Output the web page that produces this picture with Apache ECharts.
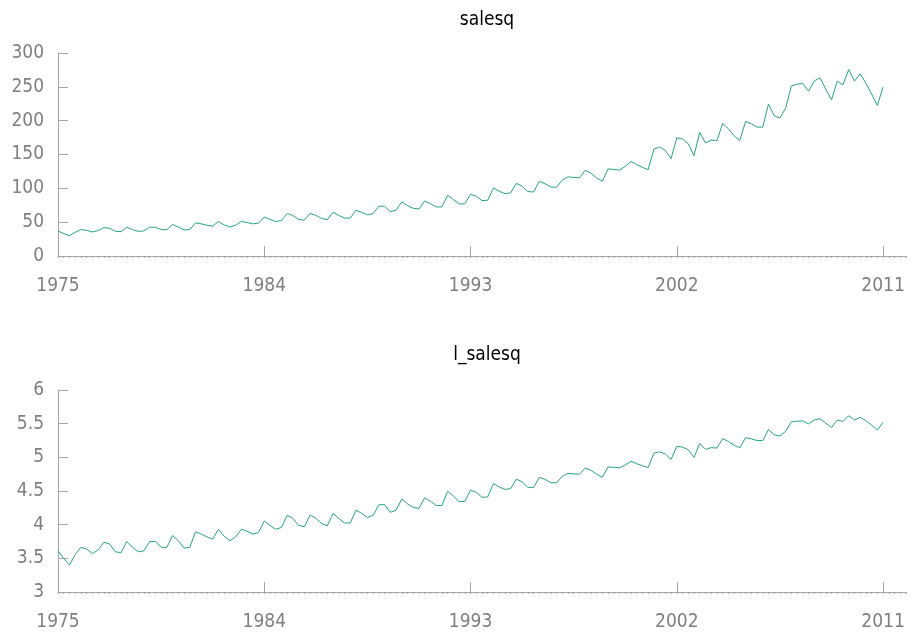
<!DOCTYPE html>
<html>
<head>
<meta charset="utf-8">
<script src="https://cdn.jsdelivr.net/npm/echarts@6/dist/echarts.min.js"></script>
<style>
  html, body { margin: 0; padding: 0; background: #fff; }
  #chart { width: 914px; height: 633px; }
</style>
</head>
<body>
<div id="chart"></div>
<script>
// Quarterly sales, 1975Q1 .. 2011Q1
const startYear = 1975;
const salesq = [
  37, 33, 30, 35,
  39, 38, 35.5, 37.5,
  42, 41, 36.5, 36,
  42.5, 39, 36.5, 37,
  42.5, 42.5, 39, 39,
  46.5, 43, 38.5, 39,
  49, 47.5, 45.5, 44,
  51, 46, 43, 45.5,
  51, 49.5, 47.5, 48.5,
  57.7, 54, 51, 52.4,
  62.7, 60, 54, 53,
  63, 60, 55.6, 53.6,
  64.6, 60, 56, 56,
  67.6, 64.6, 60.7, 62.7,
  73.5, 73.5, 65.6, 67.6,
  79.9, 74.4, 70.5, 69.5,
  81.4, 77.4, 72.5, 72.5,
  89.7, 83.5, 77, 77,
  91.2, 88.3, 81.9, 82.4,
  100.6, 95.6, 92.2, 93.2,
  107.4, 103, 95.2, 94.6,
  110.4, 107, 102, 101.6,
  112, 117, 116, 115.5,
  126.5, 122.5, 115.5, 110.4,
  128.6, 128, 127, 132.4,
  139.8, 135, 131, 127.6,
  158, 161, 156, 143.8,
  174.8, 172.8, 166, 148.2,
  182.6, 167, 171.4, 170.4,
  195.9, 188, 177.7, 170.8,
  198.8, 195.4, 190.5, 190.5,
  224.5, 207.2, 203.8, 218.6,
  251.5, 254, 254.9, 243.6,
  258.8, 263.3, 246.6, 230.8,
  258.4, 253, 275.5, 258.4,
  269.2, 255.5, 239.3, 222.5,
  249.6
];
// Natural log of sales
const l_salesq = [
  3.611, 3.497, 3.401, 3.555,
  3.664, 3.638, 3.570, 3.624,
  3.738, 3.714, 3.597, 3.584,
  3.750, 3.664, 3.597, 3.611,
  3.750, 3.750, 3.664, 3.664,
  3.839, 3.761, 3.651, 3.664,
  3.892, 3.861, 3.818, 3.784,
  3.932, 3.829, 3.761, 3.818,
  3.932, 3.902, 3.861, 3.882,
  4.055, 3.989, 3.932, 3.959,
  4.138, 4.094, 3.989, 3.970,
  4.143, 4.094, 4.018, 3.982,
  4.168, 4.094, 4.025, 4.025,
  4.214, 4.168, 4.106, 4.138,
  4.297, 4.297, 4.184, 4.214,
  4.381, 4.309, 4.256, 4.241,
  4.399, 4.349, 4.284, 4.284,
  4.496, 4.425, 4.344, 4.344,
  4.513, 4.481, 4.406, 4.412,
  4.611, 4.560, 4.524, 4.535,
  4.677, 4.635, 4.556, 4.550,
  4.704, 4.673, 4.625, 4.621,
  4.718, 4.762, 4.754, 4.749,
  4.840, 4.808, 4.749, 4.704,
  4.857, 4.852, 4.844, 4.886,
  4.940, 4.905, 4.875, 4.849,
  5.063, 5.081, 5.050, 4.968,
  5.164, 5.152, 5.112, 4.999,
  5.207, 5.118, 5.144, 5.138,
  5.278, 5.236, 5.180, 5.141,
  5.292, 5.275, 5.250, 5.250,
  5.414, 5.334, 5.317, 5.387,
  5.528, 5.537, 5.541, 5.496,
  5.556, 5.573, 5.508, 5.442,
  5.554, 5.533, 5.618, 5.554,
  5.595, 5.543, 5.478, 5.405,
  5.520
];
const yearTicks = [1975, 1984, 1993, 2002, 2011];
const salesTicks = [0, 50, 100, 150, 200, 250, 300];
const logTicks = [3, 3.5, 4, 4.5, 5, 5.5, 6];

// Decimal-year position of each quarter
const quarterTime = salesq.map((_, i) => startYear + i / 4);
const pairs = (vals) => vals.map((v, i) => [quarterTime[i], v]);

const LINE = '#2aa478';
const AXIS = '#a6a6a6';
const LABEL = '#7f7f7f';
const FONT = "'DejaVu Sans Condensed', 'Noto Sans', sans-serif";

const grids = [
  { left: 58, right: 8, top: 53, height: 203 },
  { left: 58, right: 8, top: 390, height: 202 }
];

function majorXAxis(gi) {
  return {
    type: 'value', gridIndex: gi, position: 'bottom', min: 1975, max: 2012,
    axisLine: { show: true, lineStyle: { color: AXIS, width: 1 } },
    axisTick: { show: true, inside: true, length: 10, customValues: yearTicks,
                lineStyle: { color: AXIS } },
    axisLabel: { show: true, customValues: yearTicks, color: LABEL,
                 fontFamily: FONT, fontSize: 19, margin: 21,
                 formatter: (v) => String(Math.round(v)) },
    splitLine: { show: false }
  };
}
// Small quarterly ticks under the time axis
function quarterXAxis(gi) {
  return {
    type: 'value', gridIndex: gi, position: 'bottom', offset: 0,
    min: 1975, max: 2012, interval: 0.25,
    axisLine: { show: false },
    axisTick: { show: true, inside: false, length: 2, lineStyle: { color: AXIS } },
    axisLabel: { show: false },
    splitLine: { show: false }
  };
}
function yAxis(gi, ticks) {
  return {
    type: 'value', gridIndex: gi,
    min: ticks[0], max: ticks[ticks.length - 1], interval: ticks[1] - ticks[0],
    axisLine: { show: true, lineStyle: { color: AXIS, width: 1 } },
    axisTick: { show: true, inside: true, length: 10, lineStyle: { color: AXIS } },
    axisLabel: { color: LABEL, fontFamily: FONT, fontSize: 19, margin: 14 },
    splitLine: { show: false }
  };
}

const chart = echarts.init(document.getElementById('chart'), null, { renderer: 'canvas' });
chart.setOption({
  animation: false,
  backgroundColor: '#fff',
  title: [
    { text: 'salesq', left: 482, top: 6, textAlign: 'center',
      textStyle: { color: '#000', fontWeight: 'normal', fontFamily: FONT, fontSize: 19 } },
    { text: 'l_salesq', left: 482, top: 341, textAlign: 'center',
      textStyle: { color: '#000', fontWeight: 'normal', fontFamily: FONT, fontSize: 19 } }
  ],
  grid: grids,
  xAxis: [majorXAxis(0), quarterXAxis(0), majorXAxis(1), quarterXAxis(1)],
  yAxis: [yAxis(0, salesTicks), yAxis(1, logTicks)],
  series: [
    { type: 'line', name: 'salesq', xAxisIndex: 0, yAxisIndex: 0,
      data: pairs(salesq), showSymbol: false, symbol: 'none',
      lineStyle: { color: LINE, width: 1 } },
    { type: 'line', name: 'l_salesq', xAxisIndex: 2, yAxisIndex: 1,
      data: pairs(l_salesq), showSymbol: false, symbol: 'none',
      lineStyle: { color: LINE, width: 1 } }
  ]
});
</script>
</body>
</html>
